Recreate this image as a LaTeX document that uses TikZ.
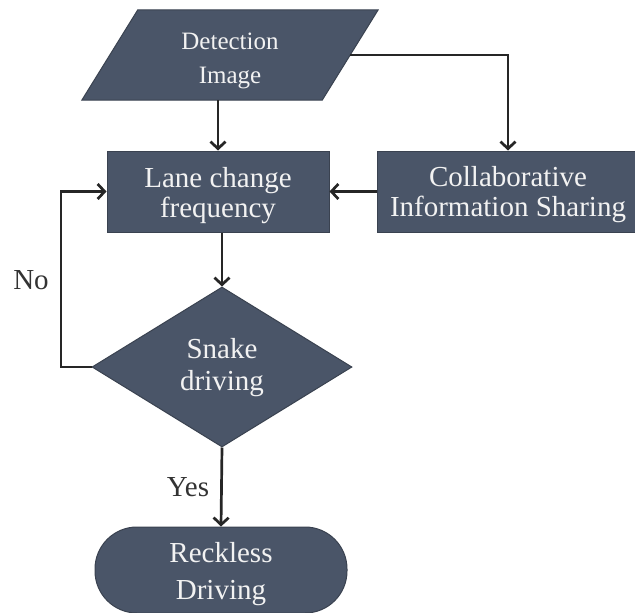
\documentclass[tikz,border=0pt]{standalone}
\usepackage{fontspec}
\setmainfont{Liberation Serif}
\usetikzlibrary{shapes.geometric,arrows.meta,backgrounds}
\definecolor{boxfill}{RGB}{74,85,104}
\definecolor{boxline}{RGB}{58,66,80}
\definecolor{boxtext}{RGB}{242,242,242}
\begin{document}
\begin{tikzpicture}[x=1pt,y=-1pt,
  boxtxt/.style={text=boxtext,font=\fontsize{29}{30}\selectfont,align=center,inner sep=0pt},
  shapebase/.style={fill=boxfill,draw=boxline,line width=1pt,inner sep=0pt},
  procbox/.style={shapebase,rectangle},
  decbox/.style={shapebase,diamond},
  endbox/.style={shapebase,rectangle,rounded corners=42pt},
  flow/.style={draw=black!85,line width=2.7pt,-{Straight Barb[length=7pt,width=15pt,line width=2.7pt]}},
  lbl/.style={font=\fontsize{29}{32}\selectfont,text=black!80}]
\useasboundingbox (0,0) rectangle (635,613);

% input: detection image, a parallelogram around its text
\node[minimum width=240pt,minimum height=90pt,inner sep=0pt] (det) at (230,55) {};
\begin{scope}[on background layer]
  \fill[white] (0,0) rectangle (635,613);
  \filldraw[shapebase]
    ([xshift=28pt]det.north west) -- ([xshift=28pt]det.north east)
    -- ([xshift=-28pt]det.south east) -- ([xshift=-28pt]det.south west) -- cycle;
\end{scope}
\node[boxtxt,font=\fontsize{25}{34}\selectfont] (dettxt) at ([yshift=-6pt]det.center) {Detection\\Image};

% process boxes
\node[procbox,minimum width=222pt,minimum height=81pt] (lane) at (218,191.5) {};
\node[boxtxt] (lanetxt) at ([yshift=-4pt]lane.center) {Lane change\\frequency};
\node[procbox,minimum width=262pt,minimum height=81pt] (collab) at (508,191.5) {};
\node[boxtxt] (collabtxt) at ([yshift=-3pt]collab.center) {Collaborative\\Information Sharing};

% decision
\node[decbox,minimum width=260pt,minimum height=160pt] (snake) at (222,367) {};
\node[boxtxt,font=\fontsize{29}{32}\selectfont] (snaketxt) at ([yshift=-1pt]snake.center) {Snake\\driving};

% terminal
\node[endbox,minimum width=252pt,minimum height=86pt] (reck) at (221,570) {};
\node[boxtxt,font=\fontsize{29}{37}\selectfont] (recktxt) at ([yshift=-4pt]reck.center) {Reckless\\Driving};

% connectors
\draw[flow] (lane.north |- det.south) -- (lane.north);
\draw[flow] (det.east) -| (collab.north);
\draw[flow] (collab.west) -- (lane.east);
\draw[flow] (lane.south -| snake.north) -- (snake.north);
\coordinate (loop) at (61,367);
\draw[flow] (snake.west) -- (loop) |- (lane.west);
\draw[flow] (snake.south) -- (reck.north);

% branch labels
\node[lbl] (no) at (31,280) {No};
\node[lbl] (yes) at (188,487) {Yes};
\end{tikzpicture}
\end{document}
